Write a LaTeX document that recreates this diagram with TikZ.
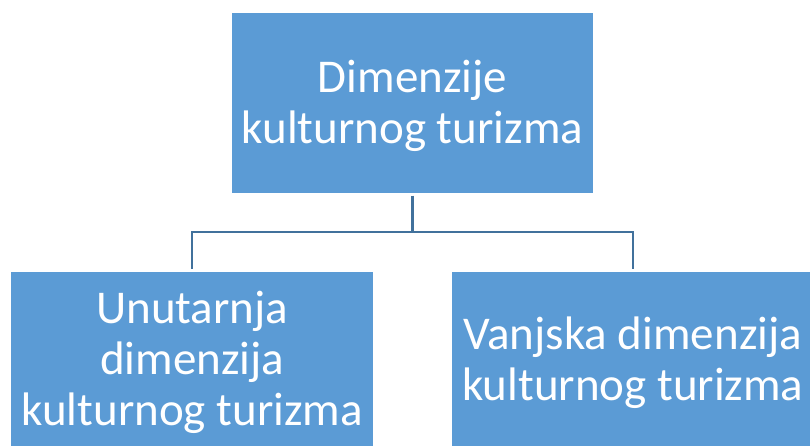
\documentclass[tikz,border=0pt]{standalone}
\usepackage{fontspec}
\setmainfont{Carlito}
\definecolor{boxblue}{HTML}{5B9BD5}
\definecolor{linkblue}{HTML}{41719C}
\begin{document}
\begin{tikzpicture}[x=1pt,y=-1pt,
  box/.style={fill=boxblue, draw=none, minimum width=361.5pt, inner sep=0pt},
  boxtext/.style={text=white, align=center, inner sep=0pt,
    font=\fontsize{47}{51}\selectfont},
  link/.style={draw=linkblue, line width=2.5pt}]
\useasboundingbox (0,0) rectangle (810,447);
\node[box, minimum height=180pt] (top) at (412.5,102.5) {};
\node[box, minimum height=174pt] (left) at (192.2,359) {};
\node[box, minimum height=174pt] (right) at (632.8,359) {};
\node[boxtext] (toptext) at ([yshift=-3pt]top.center) {Dimenzije\\kulturnog turizma};
\node[boxtext] (lefttext) at ([yshift=-3.5pt]left.center) {Unutarnja\\dimenzija\\kulturnog turizma};
\node[boxtext] (righttext) at ([yshift=-3.5pt]right.center) {Vanjska dimenzija\\kulturnog turizma};
\coordinate (mid) at (top.south |- 0,232);
\draw[link] ([yshift=-3pt]top.south) -- (mid) -| ([yshift=3pt]left.north);
\draw[link] (mid) -| ([yshift=3pt]right.north);
\end{tikzpicture}
\end{document}
